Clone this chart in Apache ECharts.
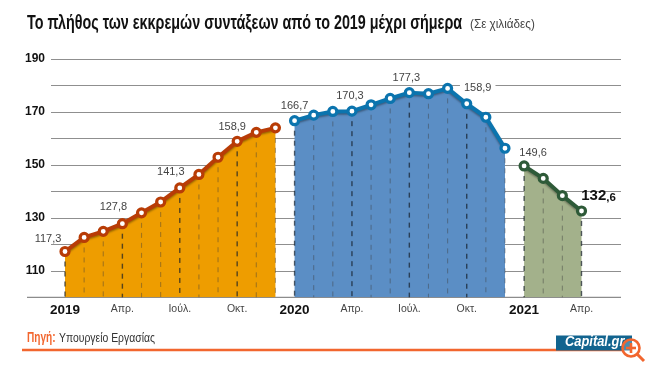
<!DOCTYPE html>
<html><head><meta charset="utf-8">
<style>html,body{margin:0;padding:0;background:#fff}#c{width:650px;height:367px}</style>
<script src="https://cdn.jsdelivr.net/npm/echarts@6/dist/echarts.min.js"></script>
</head><body><div id="c"></div>
<script>
const monthLabels = ['2019','','','Απρ.','','','Ιούλ.','','','Οκτ.','','','2020','','','Απρ.','','','Ιούλ.','','','Οκτ.','','','2021','','','Απρ.'];
const values2019 = [117.3,122.6,124.9,127.8,131.9,136,141.3,146.4,152.9,158.9,162.3,164];
const values2020 = [166.7,168.8,170.2,170.3,172.7,175.1,177.3,176.9,178.9,173.1,168,156.3];
const values2021 = [149.6,144.9,138.4,132.6];
const yMin = 100, yMax = 190, yStep = 10;
const yTickLabels = {110:'110',130:'130',150:'150',170:'170',190:'190'};
const sans = '"Liberation Sans",sans-serif';

const lbl = (text, off, extra) => ({show:true, position:'inside', offset:off, formatter:text,
  color:'#444', fontFamily:sans, fontSize:11, ...extra});
const annotations = {
  0:lbl('117,3',[-17,-13]), 3:lbl('127,8',[-9,-17]), 6:lbl('141,3',[-9,-16]), 9:lbl('158,9',[-5,-14]),
  12:lbl('166,7',[0,-15]), 15:lbl('170,3',[-2,-15]), 18:lbl('177,3',[-3,-15]),
  21:lbl('158,9',[11,-16],{backgroundColor:'#fff',padding:[1,4]}), 24:lbl('149,6',[9,-13]),
  27:lbl('{a|132}{b|,6}',[17,-15],{rich:{a:{fontFamily:sans,fontWeight:'bold',fontSize:15,color:'#111'},b:{fontFamily:sans,fontWeight:'bold',fontSize:11.5,color:'#111',padding:[3,0,0,0]}}})
};
const pts = (vals,start) => vals.map((v,i)=>[i+start,v]);
const areaS = (vals,start,areaC) => ({
  type:'line', xAxisIndex:0, yAxisIndex:0, z:2, silent:true, data:pts(vals,start),
  symbol:'none', lineStyle:{width:0}, areaStyle:{color:areaC,opacity:1,origin:'start'}
});
const lineS = (vals,start,lineC) => ({
  type:'line', xAxisIndex:0, yAxisIndex:0, z:4, silent:true,
  data: vals.map((v,i)=>{const x=i+start; const d={value:[x,v]}; if(annotations[x]) d.label=annotations[x]; return d;}),
  symbol:'circle', symbolSize:8, showSymbol:true, showAllSymbol:true, smooth:false,
  lineStyle:{color:lineC,width:4,shadowColor:'rgba(0,0,0,.35)',shadowBlur:2,shadowOffsetY:1.5},
  itemStyle:{color:'#fff',borderColor:lineC,borderWidth:3.2}
});
const allPts = [].concat(pts(values2019,0),pts(values2020,12),pts(values2021,24));

const option = {
  animation:false,
  backgroundColor:'#fff',
  grid:[
    {left:65,width:516.5,top:59,height:238.3},
    {left:51,width:570,top:59,height:238.3}
  ],
  xAxis:[
    {type:'category',gridIndex:0,data:monthLabels,boundaryGap:false,
     axisLine:{show:false},axisTick:{show:false},splitLine:{show:false},
     axisLabel:{interval:0,margin:6,hideOverlap:false,formatter:v=>/^\d{4}$/.test(v)?'{y|'+v+'}':'{m|'+v+'}',
       rich:{y:{fontFamily:sans,fontWeight:'bold',fontSize:13.5,color:'#111'},m:{fontFamily:sans,fontSize:10.5,color:'#444'}}}},
    {type:'value',gridIndex:1,show:false,min:0,max:1}
  ],
  yAxis:[
    {type:'value',gridIndex:0,min:yMin,max:yMax,interval:yStep,show:false},
    {type:'value',gridIndex:1,min:yMin,max:yMax,interval:yStep,
     axisLine:{show:false},axisTick:{show:false},
     splitLine:{show:true,lineStyle:{color:'#8f8f8f',width:1.2}},
     axisLabel:{margin:6,color:'#111',fontFamily:sans,fontWeight:'bold',fontSize:12,
       formatter:v=>yTickLabels[v]||''}}
  ],
  series:[
    {type:'line',xAxisIndex:1,yAxisIndex:1,data:[],z:1},
    areaS(values2019,0,'#ee9d00'),
    areaS(values2020,12,'#5b8ec5'),
    areaS(values2021,24,'#a3b18b'),
    {type:'custom',xAxisIndex:0,yAxisIndex:0,z:3,silent:true,data:allPts,
     renderItem:(p,api)=>{
       const i=api.value(0),v=api.value(1),a=api.coord([i,v]),b=api.coord([i,yMin]);
       const major=i%3===0;
       return {type:'line',shape:{x1:a[0],y1:a[1],x2:b[0],y2:b[1]},
         style:{stroke:major?'rgba(20,30,40,.7)':'rgba(60,60,60,.42)',lineWidth:major?1.4:1.1,lineDash:[5,5]}};
     }},
    lineS(values2019,0,'#b83c06'),
    lineS(values2020,12,'#0b74ae'),
    lineS(values2021,24,'#2e5a38')
  ],
  graphic:[
    {type:'text',x:27,y:13,scaleX:.718,style:{text:'Το πλήθος των εκκρεμών συντάξεων από το 2019 μέχρι σήμερα',fontFamily:sans,fontWeight:'bold',fontSize:20,fill:'#111'}},
    {type:'text',x:470,y:18,scaleX:.9,style:{text:'(Σε χιλιάδες)',fontFamily:sans,fontSize:13,fill:'#444'}},
    {type:'line',shape:{x1:27,y1:297.3,x2:621,y2:297.3},style:{stroke:'#8c8c8c',lineWidth:1.2},z:2},
    {type:'text',x:27,y:331,scaleX:.72,style:{text:'Πηγή:',fontFamily:sans,fontWeight:'bold',fontSize:14,fill:'#f2662e'}},
    {type:'text',x:59,y:332,scaleX:.8,style:{text:'Υπουργείο Εργασίας',fontFamily:sans,fontSize:13,fill:'#333'}},
    {type:'line',shape:{x1:22,y1:350,x2:622,y2:350},style:{stroke:'#f2662e',lineWidth:2.4},z:5},
    {type:'rect',shape:{x:556,y:335.5,width:76,height:15},style:{fill:'#12648f'},z:6},
    {type:'text',x:565,y:335.5,scaleX:.92,style:{text:'Capital.gr',fontFamily:sans,fontStyle:'italic',fontWeight:'bold',fontSize:14,fill:'#fff'},z:7},
    {type:'circle',shape:{cx:631,cy:348,r:8.5},style:{fill:'rgba(255,255,255,.25)',stroke:'#f2662e',lineWidth:2.6},z:8},
    {type:'line',shape:{x1:637,y1:354,x2:644,y2:361},style:{stroke:'#f2662e',lineWidth:3},z:8},
    {type:'line',shape:{x1:626,y1:348,x2:636,y2:348},style:{stroke:'#f2662e',lineWidth:2.6},z:8},
    {type:'line',shape:{x1:631,y1:343,x2:631,y2:353},style:{stroke:'#f2662e',lineWidth:2.6},z:8}
  ]
};
echarts.init(document.getElementById('c'),null,{renderer:'canvas'}).setOption(option);
</script></body></html>
